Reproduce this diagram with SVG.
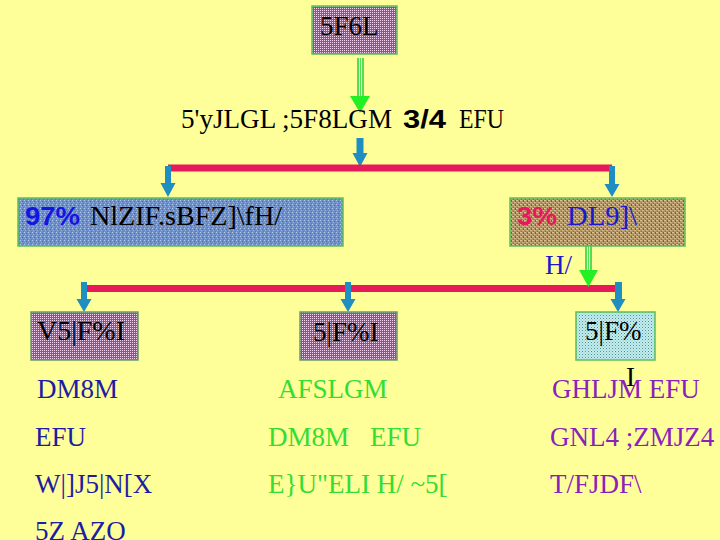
<svg xmlns="http://www.w3.org/2000/svg" width="720" height="540" viewBox="0 0 720 540">
<defs>
<pattern id="pMag" width="2" height="2" patternUnits="userSpaceOnUse">
<rect width="2" height="2" fill="#B03CA8"/>
<rect width="1" height="1" fill="#F6D4F2"/>
</pattern>
<pattern id="pCyan" width="3" height="3" patternUnits="userSpaceOnUse">
<rect width="3" height="3" fill="#C4EEEE"/>
<rect width="1" height="1" fill="#4E9098"/>
<rect x="1.5" y="1.5" width="1" height="1" fill="#7EB8BE"/>
</pattern>
<pattern id="pDenim" width="4" height="4" patternUnits="userSpaceOnUse">
<rect width="4" height="4" fill="#7090CA"/>
<rect width="1" height="1" fill="#B0C8EC"/>
<rect x="2" y="1" width="1" height="1" fill="#4A68A8"/>
<rect x="1" y="2" width="1" height="1" fill="#98B0E0"/>
<rect x="3" y="3" width="1" height="1" fill="#5878B8"/>
</pattern>
<pattern id="pBurlap" width="4" height="4" patternUnits="userSpaceOnUse">
<rect width="4" height="4" fill="#B09466"/>
<rect width="2" height="1" fill="#DCC494"/>
<rect x="2" y="2" width="2" height="1" fill="#D0B482"/>
<rect x="3" y="0" width="1" height="2" fill="#7E6038"/>
<rect x="1" y="3" width="1" height="1" fill="#8A6C44"/>
</pattern>
<style>
.nb{stroke:#5CC05C;stroke-width:1.5}
.nm{stroke:#6A9A6A;stroke-width:1.5}
.s{font-family:"Liberation Serif","Times New Roman",serif;font-size:27px}
.b{font-family:"Liberation Sans",Arial,sans-serif;font-weight:bold;font-size:26px}
.k{fill:#000}
.c1{fill:#1C1CA4}
.c2{fill:#33DD33}
.c3{fill:#8A22BA}
.red{stroke:#E6195A;stroke-width:7;fill:none}
.ba{fill:#1E8FC0}
.gs{fill:#55DD55}
.gl{stroke:#E8FFB0;stroke-width:1}
.gh{fill:#22F022}
</style>
</defs>
<rect width="720" height="540" fill="#FFFF99"/>

<g id="connectors">
<rect class="gs" x="357" y="58" width="7" height="40"/>
<line class="gl" x1="359.5" y1="58" x2="359.5" y2="98"/>
<line class="gl" x1="361.5" y1="58" x2="361.5" y2="98"/>
<polygon class="gh" points="350,96 370,96 360,113"/>
<polygon class="ba" points="356.5,138 363.5,138 363.5,153 367.5,153 360,167 352.5,153 356.5,153"/>
<line class="red" x1="168" y1="168" x2="612" y2="168"/>
<polygon class="ba" points="165,166 171,166 171,183 175.5,183 168,197 160.5,183 165,183"/>
<polygon class="ba" points="609,166 615,166 615,184 619.5,184 612,197 604.5,184 609,184"/>
<rect class="gs" x="585" y="246" width="7" height="26"/>
<line class="gl" x1="587.5" y1="246" x2="587.5" y2="272"/>
<line class="gl" x1="589.5" y1="246" x2="589.5" y2="272"/>
<line class="red" x1="85" y1="288.5" x2="616" y2="288.5"/>
<polygon class="gh" points="579,270 598,270 588.5,287"/>
<polygon class="ba" points="81,282 87,282 87,299 91.5,299 84,312 76.5,299 81,299"/>
<polygon class="ba" points="345,282 351,282 351,299 355.5,299 348,312 340.5,299 345,299"/>
<polygon class="ba" points="615,282 622,282 622,299 625.5,299 618,312 610.5,299 615,299"/>
</g>

<g id="node-top">
<rect class="nb" x="312" y="6" width="85" height="48" fill="url(#pMag)"/>
<text class="s k" x="320" y="35" font-size="25">5F6L</text>
</g>

<g id="title">
<text class="s k" x="181" y="128" textLength="211" lengthAdjust="spacingAndGlyphs">5'yJLGL ;5F8LGM</text>
<text class="b k" x="403" y="128" textLength="43" lengthAdjust="spacingAndGlyphs">3/4</text>
<text class="s k" x="459" y="128" textLength="45" lengthAdjust="spacingAndGlyphs">EFU</text>
</g>

<g id="node-97">
<rect class="nb" x="18" y="198" width="325" height="48" fill="url(#pDenim)"/>
<text class="b" x="25" y="225" fill="#1515E0" textLength="55" lengthAdjust="spacingAndGlyphs">97%</text>
<text class="s k" x="90" y="225" textLength="192" lengthAdjust="spacingAndGlyphs">NlZIF.sBFZ]\fH/</text>
</g>

<g id="node-3">
<rect class="nb" x="510" y="198" width="175" height="48" fill="url(#pBurlap)"/>
<text class="b" x="517" y="225" fill="#E6195A" textLength="40" lengthAdjust="spacingAndGlyphs">3%</text>
<text class="s" x="567" y="225" fill="#1A1ACC" textLength="70" lengthAdjust="spacingAndGlyphs">DL9]\</text>
<text class="s" x="545" y="274" fill="#1A1ACC">H/</text>
</g>

<g id="node-left">
<rect class="nm" x="31" y="312" width="107" height="48" fill="url(#pMag)"/>
<text class="s k" x="37" y="340" textLength="88" lengthAdjust="spacingAndGlyphs">V5|F%I</text>
</g>

<g id="node-mid">
<rect class="nm" x="300" y="312" width="97" height="48" fill="url(#pMag)"/>
<text class="s k" x="313" y="341">5|F%I</text>
</g>

<g id="node-right">
<rect class="nb" x="576" y="312" width="79" height="48" fill="url(#pCyan)"/>
<text class="s k" x="585" y="340">5|F%</text>
<text class="s k" x="626" y="386">I</text>
</g>

<g id="col-left">
<text class="s c1" x="37" y="398">DM8M</text>
<text class="s c1" x="35" y="446">EFU</text>
<text class="s c1" x="35" y="493">W|]J5|N[X</text>
<text class="s c1" x="35" y="540">5Z AZO</text>
</g>

<g id="col-mid">
<text class="s c2" x="278" y="398">AFSLGM</text>
<text class="s c2" x="268" y="446">DM8M</text>
<text class="s c2" x="370" y="446">EFU</text>
<text class="s c2" x="268" y="493">E}U"ELI H/ ~5[</text>
</g>

<g id="col-right">
<text class="s c3" x="552" y="398">GHLJM EFU</text>
<text class="s c3" x="550" y="446">GNL4 ;ZMJZ4</text>
<text class="s c3" x="550" y="493">T/FJDF\</text>
</g>
</svg>
